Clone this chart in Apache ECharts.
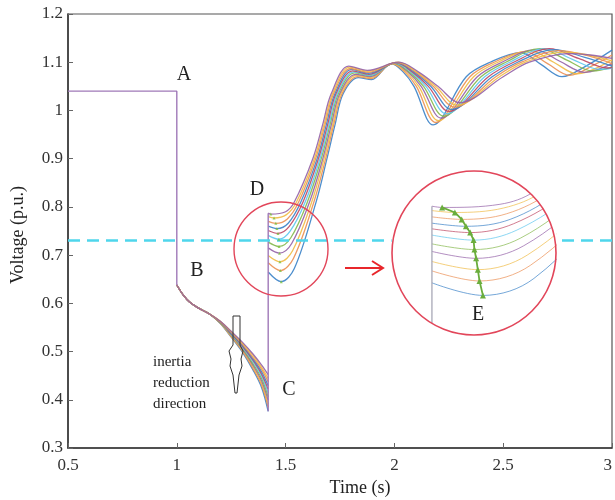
<!DOCTYPE html>
<html><head><meta charset="utf-8">
<script src="https://cdn.jsdelivr.net/npm/echarts@6/dist/echarts.min.js"></script>
<style>html,body{margin:0;padding:0;background:#fff}#c{width:615px;height:500px}</style>
</head><body><div id="c"></div>
<script>
// ---------- data ----------
const xTicks = [0.5, 1, 1.5, 2, 2.5, 3];
const yTicks = [0.3, 0.4, 0.5, 0.6, 0.7, 0.8, 0.9, 1.0, 1.1, 1.2];
const threshold = 0.73;
const preFault = [[0.5, 1.04], [1.0, 1.04], [1.0, 0.638]];
const clearTime = 1.42;
const faultT = [1.0, 1.03, 1.06, 1.1, 1.15, 1.2, 1.25, 1.3, 1.35, 1.39, 1.42];
// k = 0 (top, highest inertia) ... 10 (bottom, lowest inertia)
const faultV = [
  [0.638,0.617,0.602,0.590,0.578,0.563,0.542,0.520,0.495,0.472,0.452],
  [0.638,0.617,0.602,0.590,0.578,0.563,0.541,0.518,0.492,0.467,0.444],
  [0.638,0.617,0.602,0.590,0.578,0.562,0.540,0.516,0.488,0.463,0.437],
  [0.638,0.617,0.602,0.590,0.578,0.562,0.538,0.514,0.485,0.458,0.429],
  [0.638,0.617,0.602,0.590,0.578,0.561,0.537,0.512,0.482,0.453,0.422],
  [0.638,0.617,0.602,0.590,0.578,0.561,0.536,0.510,0.479,0.449,0.414],
  [0.638,0.617,0.602,0.590,0.578,0.560,0.535,0.508,0.475,0.444,0.406],
  [0.638,0.617,0.602,0.590,0.578,0.560,0.534,0.506,0.472,0.439,0.399],
  [0.638,0.617,0.602,0.590,0.578,0.559,0.532,0.504,0.469,0.434,0.391],
  [0.638,0.617,0.602,0.590,0.578,0.559,0.531,0.502,0.465,0.430,0.384],
  [0.638,0.617,0.602,0.590,0.578,0.558,0.530,0.500,0.462,0.425,0.376]
];
// post-clearing trajectories: [time, voltage]; 2nd point = post-clearing minimum
const post0  = [[1.42,0.787],[1.432,0.785],[1.5,0.79],[1.54,0.81],[1.625,0.9],[1.67,0.97],[1.71,1.035],[1.79,1.092],[1.875,1.083],[2.02,1.1],[2.11,1.08],[2.2,1.05],[2.3,1.016],[2.5,1.07],[2.62,1.1],[2.8,1.118],[2.9,1.115],[3.0,1.108]];
const post1  = [[1.42,0.78],[1.447,0.777],[1.504,0.784],[1.55,0.81],[1.632,0.9],[1.676,0.97],[1.716,1.035],[1.795,1.09],[1.877,1.081],[2.017,1.1],[2.103,1.08],[2.189,1.05],[2.288,1.011],[2.483,1.07],[2.602,1.1],[2.778,1.121],[2.88,1.116],[3.0,1.103]];
const post2  = [[1.42,0.77],[1.455,0.766],[1.508,0.775],[1.56,0.81],[1.638,0.9],[1.681,0.97],[1.721,1.035],[1.799,1.087],[1.879,1.079],[2.013,1.099],[2.096,1.08],[2.178,1.05],[2.276,1.007],[2.466,1.07],[2.584,1.1],[2.756,1.124],[2.9,1.112],[3.0,1.097]];
const post3  = [[1.42,0.76],[1.46,0.755],[1.512,0.766],[1.57,0.81],[1.645,0.9],[1.687,0.97],[1.727,1.035],[1.804,1.085],[1.881,1.077],[2.01,1.099],[2.089,1.08],[2.167,1.05],[2.263,1.002],[2.449,1.07],[2.566,1.1],[2.734,1.126],[2.875,1.11],[3.0,1.092]];
const post4  = [[1.42,0.751],[1.465,0.745],[1.516,0.759],[1.58,0.81],[1.651,0.9],[1.693,0.97],[1.732,1.035],[1.808,1.082],[1.883,1.075],[2.006,1.099],[2.082,1.08],[2.156,1.05],[2.251,0.998],[2.432,1.07],[2.548,1.1],[2.712,1.128],[2.846,1.108],[2.98,1.088],[3.0,1.089]];
const post5  = [[1.42,0.741],[1.469,0.733],[1.52,0.749],[1.59,0.81],[1.658,0.9],[1.699,0.97],[1.738,1.035],[1.813,1.08],[1.885,1.073],[2.003,1.098],[2.075,1.08],[2.145,1.05],[2.239,0.993],[2.415,1.07],[2.53,1.1],[2.69,1.128],[2.818,1.106],[2.945,1.085],[3.0,1.088]];
const post6  = [[1.42,0.727],[1.47,0.718],[1.524,0.736],[1.6,0.81],[1.664,0.9],[1.704,0.97],[1.743,1.035],[1.817,1.078],[1.887,1.072],[1.999,1.098],[2.068,1.08],[2.134,1.05],[2.227,0.988],[2.398,1.07],[2.512,1.1],[2.668,1.128],[2.79,1.105],[2.91,1.082],[3.0,1.09]];
const post7  = [[1.42,0.715],[1.472,0.704],[1.528,0.724],[1.61,0.81],[1.671,0.9],[1.71,0.97],[1.749,1.035],[1.822,1.075],[1.889,1.07],[1.996,1.098],[2.061,1.08],[2.123,1.05],[2.215,0.984],[2.381,1.07],[2.494,1.1],[2.646,1.126],[2.76,1.102],[2.875,1.079],[3.0,1.097]];
const post8  = [[1.42,0.699],[1.474,0.686],[1.532,0.709],[1.62,0.81],[1.677,0.9],[1.716,0.97],[1.754,1.035],[1.826,1.073],[1.891,1.068],[1.992,1.097],[2.054,1.08],[2.112,1.05],[2.202,0.979],[2.364,1.07],[2.476,1.1],[2.624,1.124],[2.732,1.1],[2.84,1.076],[3.0,1.105]];
const post9  = [[1.42,0.684],[1.476,0.668],[1.536,0.693],[1.63,0.81],[1.684,0.9],[1.721,0.97],[1.76,1.035],[1.831,1.07],[1.893,1.066],[1.989,1.097],[2.047,1.08],[2.101,1.05],[2.19,0.975],[2.347,1.07],[2.458,1.1],[2.602,1.122],[2.704,1.097],[2.805,1.073],[2.92,1.095],[3.0,1.115]];
const post10 = [[1.42,0.665],[1.48,0.645],[1.54,0.672],[1.64,0.81],[1.69,0.9],[1.727,0.97],[1.765,1.035],[1.835,1.068],[1.895,1.064],[1.985,1.097],[2.04,1.08],[2.09,1.05],[2.178,0.97],[2.33,1.07],[2.44,1.1],[2.58,1.12],[2.675,1.095],[2.77,1.07],[2.88,1.092],[3.0,1.125]];
const postCurves = [post0,post1,post2,post3,post4,post5,post6,post7,post8,post9,post10];

// ---------- style ----------
const C = {blue:'#3a82c8', orange:'#eb8f52', yellow:'#efbb45', purple:'#9360a6', green:'#84b84c', cyan:'#5cc6ee', red:'#bd4560'};
const curveColors = [C.purple,C.yellow,C.orange,C.blue,C.red,C.cyan,C.green,C.purple,C.yellow,C.orange,C.blue];
const serif = '"Liberation Serif","DejaVu Serif",serif';
const minPoints = postCurves.map(c => c[1]);
const cVals = faultV.map(v => v[v.length - 1]);
const dVals = postCurves.map(c => c[0][1]);
const jumpLine = [[clearTime, Math.min(...cVals)], [clearTime, Math.max(...dVals)]];
const SM = 0.35;

const series = [];
series.push({type:'line', data:preFault, symbol:'none', z:3, lineStyle:{color:'#a079b8', width:1.4}});
series.push({type:'line', data:jumpLine, symbol:'none', z:3, lineStyle:{color:'#a079b8', width:1.4}});
for (let i = 0; i <= 10; i++) {
  const k = 10 - i;
  const col = curveColors[k];
  series.push({type:'line', smooth:SM, symbol:'none', z:2,
    data: faultT.map((t, j) => [t, faultV[k][j]]),
    lineStyle:{color:col, width:1.3, opacity:0.9}});
  series.push({type:'line', smooth:SM, symbol:'none', z:2,
    data: postCurves[k], lineStyle:{color:col, width:1.3, opacity:0.9}});
}
series.push({type:'line', data:[], z:4, markLine:{silent:true, symbol:'none', label:{show:false},
  data:[{yAxis:threshold}], lineStyle:{type:[12,7], color:'#4fd6ec', width:2.5}}});
series.push({type:'scatter', data:minPoints, symbol:'triangle', symbolSize:3, z:5,
  itemStyle:{color:'#7cc040', opacity:0.8}});

// inset (magnified view)
for (let i = 0; i <= 10; i++) {
  const k = 10 - i;
  series.push({type:'line', xAxisIndex:1, yAxisIndex:1, smooth:SM, symbol:'none',
    z:60, clip:true, data: postCurves[k], lineStyle:{color:curveColors[k], width:1, opacity:0.7}});
}
series.push({type:'line', xAxisIndex:1, yAxisIndex:1, data:jumpLine, symbol:'none', z:61, clip:true,
  lineStyle:{color:'#a0a0b0', width:1.2},
  markLine:{silent:true, symbol:'none', label:{show:false}, data:[{yAxis:threshold}],
    lineStyle:{type:'dotted', color:'#70d6ec', width:1.2}}});
series.push({type:'line', xAxisIndex:1, yAxisIndex:1, data:minPoints, symbol:'triangle', symbolSize:6,
  z:62, clip:true, lineStyle:{color:'#6aad3c', width:1.8}, itemStyle:{color:'#6aad3c'}});

// ---------- graphics ----------
const R = 82, icx = 474, icy = 253;
function cornerMask(sx, sy) {
  const pts = [[icx + sx*(R+3), icy + sy*(R+3)]];
  for (let a = 0; a <= 90; a += 3) {
    const r = a*Math.PI/180;
    pts.push([icx + sx*R*Math.cos(r), icy + sy*R*Math.sin(r)]);
  }
  return {type:'polygon', shape:{points:pts}, style:{fill:'#fff'}, z:70, silent:true};
}
function txt(s, x, y, size, extra) {
  return Object.assign({type:'text', x:x, y:y, z:100, silent:true,
    style:{text:s, font:size+'px '+serif, fill:'#222', align:'center', verticalAlign:'middle'}}, extra||{});
}
const graphics = [
  {type:'circle', shape:{cx:icx, cy:icy, r:R}, style:{fill:'#fff'}, z:50, silent:true},
  cornerMask(1,1), cornerMask(-1,1), cornerMask(1,-1), cornerMask(-1,-1),
  {type:'circle', shape:{cx:icx, cy:icy, r:R}, style:{fill:'none', stroke:'#e2465a', lineWidth:1.6}, z:80, silent:true},
  {type:'circle', shape:{cx:281, cy:249, r:47}, style:{fill:'none', stroke:'#e2465a', lineWidth:1.4}, z:80, silent:true},
  {type:'polyline', shape:{points:[[345,268],[382,268]]}, style:{stroke:'#e8262b', lineWidth:2}, z:80, silent:true},
  {type:'polyline', shape:{points:[[372,261],[383,268],[372,275]]}, style:{stroke:'#e8262b', lineWidth:2, fill:'none'}, z:80, silent:true},
  {type:'polygon', shape:{points:[[233,316],[240,316],[240,345],[243,351],[241,359],[242,366],[239,375],[237,393],[235,393],[233,375],[230,366],[231,359],[229,351],[233,345]]},
    style:{fill:'none', stroke:'#333', lineWidth:1}, z:90, silent:true},
  txt('A', 184, 75, 20), txt('B', 197, 271, 20), txt('C', 289, 390, 20), txt('D', 257, 190, 20), txt('E', 478, 315, 20),
  {type:'text', x:153, y:362, z:100, silent:true, style:{text:'inertia', font:'15px '+serif, fill:'#222', align:'left', verticalAlign:'middle'}},
  {type:'text', x:153, y:383, z:100, silent:true, style:{text:'reduction', font:'15px '+serif, fill:'#222', align:'left', verticalAlign:'middle'}},
  {type:'text', x:153, y:404, z:100, silent:true, style:{text:'direction', font:'15px '+serif, fill:'#222', align:'left', verticalAlign:'middle'}},
  txt('Time (s)', 360, 488, 18),
  txt('Voltage (p.u.)', 18, 235, 18, {rotation: Math.PI/2})
];

const chart = echarts.init(document.getElementById('c'), null, {renderer:'canvas'});
chart.setOption({
  animation:false,
  backgroundColor:'#fff',
  grid:[
    {left:68, top:14, width:549, height:434, show:true, borderColor:'#555', borderWidth:1.2, backgroundColor:'transparent'},
    {left:icx-R, top:icy-R, width:2*R, height:2*R, show:false}
  ],
  xAxis:[
    {type:'value', gridIndex:0, min:xTicks[0], max:xTicks[xTicks.length-1], interval:0.5,
      axisLine:{show:true, lineStyle:{color:'#333', width:1.5}}, axisTick:{show:true, inside:true, length:5, lineStyle:{color:'#666'}},
      splitLine:{show:false},
      axisLabel:{fontFamily:serif, fontSize:17, color:'#333', margin:9, alignMaxLabel:'right'}},
    {type:'value', gridIndex:1, min:1.373, max:1.566, show:false}
  ],
  yAxis:[
    {type:'value', gridIndex:0, min:yTicks[0], max:yTicks[yTicks.length-1], interval:0.1,
      axisLine:{show:true, lineStyle:{color:'#333', width:1.5}}, axisTick:{show:true, inside:true, length:5, lineStyle:{color:'#666'}},
      splitLine:{show:false},
      axisLabel:{fontFamily:serif, fontSize:17, color:'#333', margin:5}},
    {type:'value', gridIndex:1, min:0.582, max:0.843, show:false}
  ],
  series: series,
  graphic: graphics
});
</script></body></html>
